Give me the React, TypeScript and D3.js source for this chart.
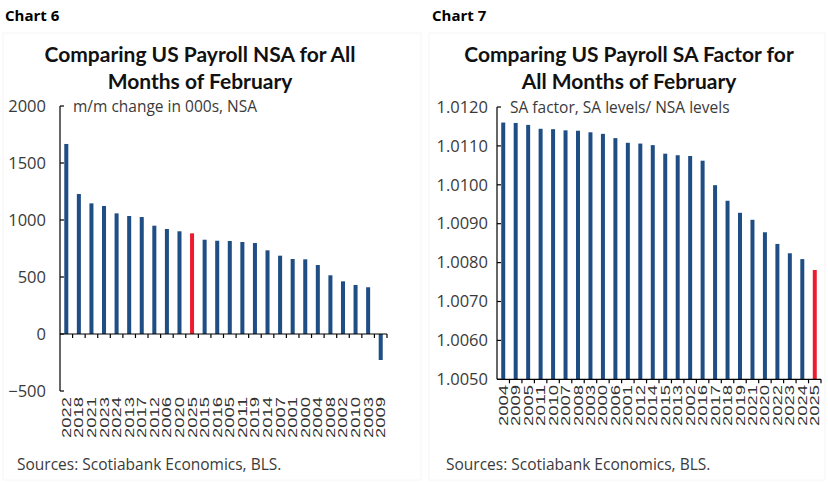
import * as d3 from "d3";

// Chart 6: NSA m/m change for February, sorted
const nsaYears = ["2022","2018","2021","2023","2024","2013","2017","2012","2006","2020","2025","2015","2016","2005","2011","2019","2014","2007","2001","2000","2004","2008","2002","2010","2003","2009"];
const nsaValues = [1667,1228,1146,1123,1058,1035,1026,950,921,901,883,827,818,816,807,798,734,687,658,655,605,515,462,430,410,-228];
const nsaTicks = [-500, 0, 500, 1000, 1500, 2000];

// Chart 7: SA factor for February
const saYears = ["2004","2009","2005","2011","2010","2007","2008","2003","2000","2006","2001","2012","2014","2015","2013","2002","2016","2017","2018","2019","2021","2020","2022","2023","2024","2025"];
const saValues = [1.0116,1.01159,1.01154,1.01144,1.01143,1.0114,1.01139,1.01135,1.01131,1.0112,1.01108,1.01106,1.01102,1.0108,1.01076,1.01074,1.01062,1.00999,1.00959,1.00928,1.0091,1.00878,1.00848,1.00824,1.00809,1.00781];
const saTicks = [1.005, 1.006, 1.007, 1.008, 1.009, 1.01, 1.011, 1.012];

const NAVY = "#1f4e85";
const RED = "#ec1c2e";
const TICK_FONT = "'Open Sans', 'Noto Sans', sans-serif";
const TITLE_FONT = "Lato, 'Noto Sans', sans-serif";

type PanelProps = {
     years: string[],
     values: number[],
     ticks: number[],
     fmt: (v: number) => string,
     x0: number, x1: number,
     yDomain: [number, number],
     yRange: [number, number],
     baseValue: number,
     labelTop: number,
     tickLabelX: number,
     unit: string,
     highlight: string,
}

const Panel = (props: PanelProps) => {
     const { years, values, ticks, fmt, x0, x1, yDomain, yRange, baseValue, labelTop, tickLabelX, unit, highlight } = props
     const xScale = d3.scaleBand<string>()
          .domain(years)
          .range([x0, x1])
          .paddingInner(0.68)
          .paddingOuter(0.34)
     const yScale = d3.scaleLinear()
          .domain(yDomain)
          .range(yRange)
     const step = xScale.step()
     const yBase = yScale(baseValue)
     const bounds = d3.range(years.length + 1).map(i => x0 + i * step).slice(1)

     return (
          <g>
               {values.map((v, i) => (
                    <rect
                         key={years[i]}
                         x={xScale(years[i])}
                         width={xScale.bandwidth()}
                         y={Math.min(yScale(v), yBase)}
                         height={Math.abs(yScale(v) - yBase)}
                         fill={years[i] === highlight ? RED : NAVY}
                    />
               ))}
               {/* y axis */}
               <line x1={x0} x2={x0} y1={yRange[1]} y2={yRange[0]} stroke="#000" strokeWidth={1.2} />
               {ticks.map(t => (
                    <g key={t}>
                         <line x1={x0} x2={x0 + 4} y1={yScale(t)} y2={yScale(t)} stroke="#000" strokeWidth={1.2} />
                         <text x={tickLabelX} y={yScale(t)} dy="0.35em" textAnchor="end" fontSize={16.5} fill="#3a3a3a" fontFamily={TICK_FONT}>{fmt(t)}</text>
                    </g>
               ))}
               {/* x axis */}
               <line x1={x0} x2={x1} y1={yBase} y2={yBase} stroke="#000" strokeWidth={1.2} />
               {bounds.map((b, i) => (
                    <line key={i} x1={b} x2={b} y1={yBase} y2={yBase + 4} stroke="#000" strokeWidth={1.2} />
               ))}
               {years.map(yr => {
                    const cx = (xScale(yr) as number) + xScale.bandwidth() / 2
                    return (
                         <text key={yr} transform={`translate(${cx + 4.5},${labelTop}) rotate(-90)`} textAnchor="end"
                              fontSize={12} fill="#333" fontFamily="'Liberation Sans', Arial, sans-serif"
                              textLength={41} lengthAdjust="spacingAndGlyphs">{yr}</text>
                    )
               })}
               <text x={x0 + 13} y={yRange[1] + 6} fontSize={15.5} fill="#3a3a3a" fontFamily={TICK_FONT}>{unit}</text>
          </g>
     )
}

export default function App() {
     return (
          <svg width={828} height={483} style={{ position: "absolute", left: 0, top: 0, background: "#fff" }}>
               <rect x={3} y={33} width={418} height={447} fill="none" stroke="#f6f6f6" />
               <rect x={429} y={33} width={396} height={447} fill="none" stroke="#f6f6f6" />

               <text x={5} y={21} fontSize={15} fontWeight={700} fontFamily={TICK_FONT} fill="#000">Chart 6</text>
               <text x={432} y={21} fontSize={15} fontWeight={700} fontFamily={TICK_FONT} fill="#000">Chart 7</text>

               <g fontFamily={TITLE_FONT} fontWeight={700} fontSize={21} textAnchor="middle" fill="#111">
                    <text x={200} y={62}>Comparing US Payroll NSA for All</text>
                    <text x={200} y={89}>Months of February</text>
                    <text x={629} y={62}>Comparing US Payroll SA Factor for</text>
                    <text x={629} y={89}>All Months of February</text>
               </g>

               <Panel
                    years={nsaYears} values={nsaValues} ticks={nsaTicks}
                    fmt={d3.format("d")}
                    x0={60} x1={387}
                    yDomain={[-500, 2000]} yRange={[391, 106]}
                    baseValue={0} labelTop={397} tickLabelX={46}
                    unit="m/m change in 000s, NSA" highlight="2025"
               />
               <Panel
                    years={saYears} values={saValues} ticks={saTicks}
                    fmt={d3.format(".4f")}
                    x0={497} x1={821}
                    yDomain={[1.005, 1.012]} yRange={[379.3, 107]}
                    baseValue={1.005} labelTop={385} tickLabelX={488}
                    unit="SA factor, SA levels/ NSA levels" highlight="2025"
               />

               <text x={17} y={470} fontSize={15.5} fill="#3a3a3a" fontFamily={TICK_FONT}>Sources: Scotiabank Economics, BLS.</text>
               <text x={446} y={470} fontSize={15.5} fill="#3a3a3a" fontFamily={TICK_FONT}>Sources: Scotiabank Economics, BLS.</text>
          </svg>
     )
}
